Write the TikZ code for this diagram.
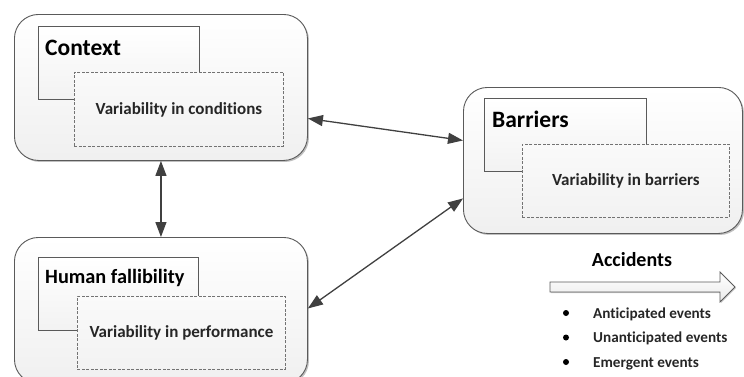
\documentclass[tikz,border=0pt]{standalone}
\usepackage{fontspec}
\setmainfont{Carlito}[RawFeature={-liga;-dlig;-clig}]
\usetikzlibrary{arrows.meta,shadows,calc}
\definecolor{edge}{HTML}{5A5A5A}
\definecolor{arr}{HTML}{404040}
\definecolor{txt}{HTML}{262626}
\tikzset{
 outerbox/.style={draw=edge, line width=0.9pt, rounded corners=24pt, top color=white, bottom color=black!6,
   drop shadow={shadow xshift=1.5pt, shadow yshift=-1.5pt, opacity=0.25, fill=black},
   anchor=north west, inner sep=0pt},
 labbox/.style={draw=edge, line width=0.8pt, top color=white, bottom color=black!5,
   drop shadow={shadow xshift=1pt, shadow yshift=-1pt, opacity=0.2, fill=black},
   anchor=north west, inner sep=0pt},
 varbox/.style={draw=edge!85, dash pattern=on 3pt off 1.5pt, line width=0.8pt, top color=black!2, bottom color=black!5,
   anchor=north west, inner sep=0pt, font=\fontsize{17}{20}\selectfont\bfseries, text=txt},
 titletext/.style={anchor=base west, inner sep=0pt, text=black},
 link/.style={{Triangle[length=15pt,width=11pt]}-{Triangle[length=15pt,width=11pt]}, draw=arr, line width=1.3pt},
 bullet/.style={circle, fill=black, inner sep=0pt, minimum size=6pt},
 itemtext/.style={anchor=base west, inner sep=0pt, font=\fontsize{15.2}{18}\selectfont\bfseries, text=txt}
}
\begin{document}
\begin{tikzpicture}[x=1pt,y=-1pt]
\useasboundingbox (0,0) rectangle (744,376);
\clip (0,0) rectangle (744,376);

% Context
\node[outerbox, minimum width=293pt, minimum height=146pt] (ctx) at (14,14) {};
\node[labbox, minimum width=161pt, minimum height=73pt] (ctxlab) at (38,26) {};
\node[varbox, minimum width=209pt, minimum height=74pt] (ctxvar) at (74,72) {Variability in conditions};
\node[titletext, font=\fontsize{23.5}{28}\selectfont\bfseries] (ctxt) at (45,55.5) {Context};

% Human fallibility
\node[outerbox, minimum width=293pt, minimum height=146pt] (hum) at (14,237) {};
\node[labbox, minimum width=160pt, minimum height=73pt] (humlab) at (38,257) {};
\node[varbox, minimum width=208pt, minimum height=73pt] (humvar) at (77,296) {Variability in performance};
\node[titletext, font=\fontsize{20.3}{24}\selectfont\bfseries] (humt) at (45,283.5) {Human fallibility};

% Barriers
\node[outerbox, minimum width=279pt, minimum height=146pt] (bar) at (463,87) {};
\node[labbox, minimum width=162pt, minimum height=73pt] (barlab) at (484,98) {};
\node[varbox, minimum width=207pt, minimum height=73pt] (barvar) at (522,144) {Variability in barriers};
\node[titletext, font=\fontsize{23.5}{28}\selectfont\bfseries] (bart) at (492,127.5) {Barriers};

% connectors
\draw[link] (ctx.south) -- (hum.north);
\draw[link] ([yshift=-31pt]ctx.east) -- ([yshift=20pt]bar.west);
\draw[link] ([yshift=2pt]hum.east) -- ([yshift=-38pt]bar.west);

% Accidents
\node[font=\fontsize{20}{24}\selectfont\bfseries, text=black, inner sep=0pt] (acc) at (632,260) {Accidents};
\path[draw=edge, line width=0.8pt, top color=white, bottom color=black!8,
   drop shadow={shadow xshift=1pt, shadow yshift=-1pt, opacity=0.2, fill=black}]
  (550,282) -- (720,282) -- (720,272) -- (735,287) -- (720,302) -- (720,292) -- (550,292) -- cycle;

\node[bullet] (b1) at (566,313) {};
\node[bullet] (b2) at (566,337.5) {};
\node[bullet] (b3) at (566,362) {};
\node[itemtext] (t1) at (593,318) {Anticipated events};
\node[itemtext] (t2) at (593,342.5) {Unanticipated events};
\node[itemtext] (t3) at (593,367) {Emergent events};
\end{tikzpicture}
\end{document}
